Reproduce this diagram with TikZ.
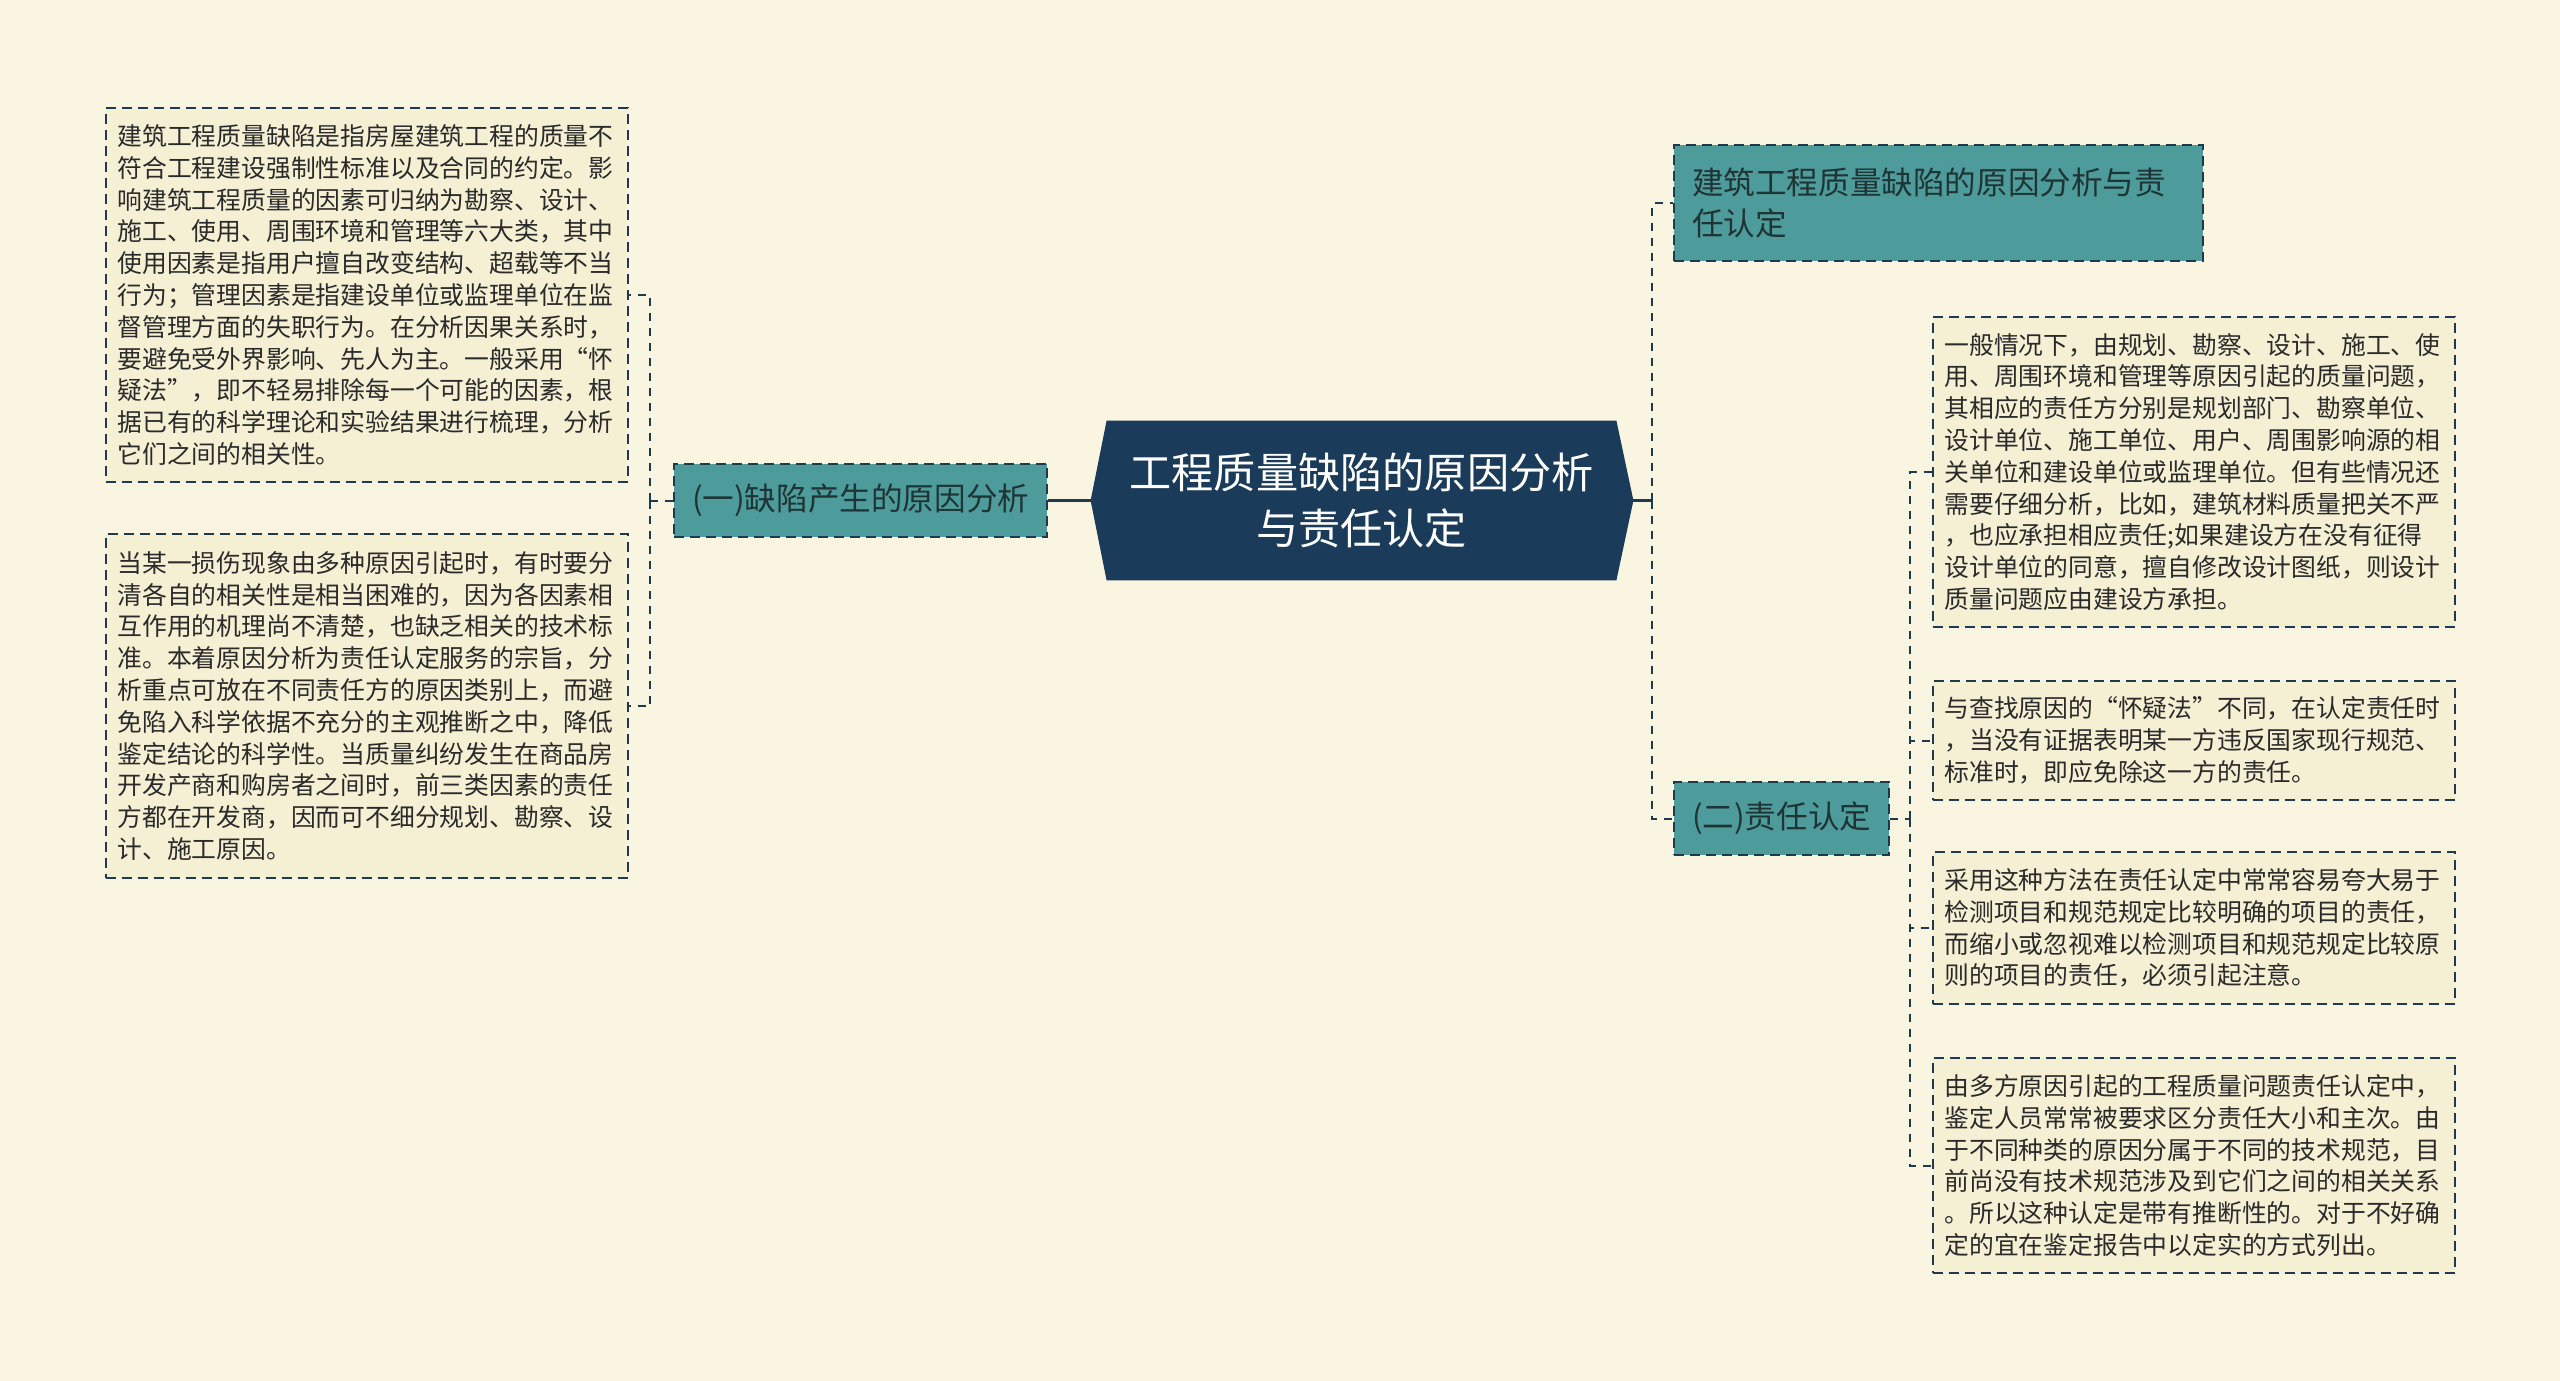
\documentclass[tikz,border=0pt]{standalone}
\usepackage{fontspec}
\usepackage{xcolor}
\usepackage{tikz}
\newfontfamily\cjk{Noto Sans CJK SC}
\definecolor{Fondo}{HTML}{FAF5E1}
\definecolor{Hoja}{HTML}{F5EFD4}
\definecolor{Verde}{HTML}{4E9B9B}
\definecolor{Raiz}{HTML}{1A3C5A}
\definecolor{Borde}{HTML}{1E3A4E}
\definecolor{Texto}{HTML}{2A2A2A}
\definecolor{TextoRama}{HTML}{1F3434}
\pgfdeclarelayer{fondo}
\pgfdeclarelayer{lineas_layer}
\pgfdeclarelayer{forma}
\pgfdeclarelayer{esquema}
\pgfsetlayers{fondo,lineas_layer,forma,esquema,main}
\tikzstyle{none}=[inner sep=0pt]
\tikzstyle{raiz}=[text=white,font=\cjk\fontsize{21.1}{27.8}\selectfont,align=center,minimum width=254.5pt,minimum height=79.5pt,inner sep=0pt]
\tikzstyle{rama}=[draw=Borde,dash pattern=on 5pt off 3pt,line width=1pt,fill=Verde,text=TextoRama,font=\cjk\fontsize{15.8}{20.4}\selectfont,inner xsep=9pt,inner ysep=0pt,anchor=west,align=left]
\tikzstyle{hoja}=[draw=Borde,dash pattern=on 5pt off 3pt,line width=1pt,fill=Hoja,text=Texto,font=\cjk\fontsize{12.4}{15.9}\selectfont,text width=249pt,inner xsep=6pt,inner ysep=6pt,align=left]
\tikzstyle{line}=[draw=Borde,line width=1pt,dash pattern=on 4pt off 3.5pt]
\tikzstyle{tronco}=[draw=Borde,line width=1.5pt]

\begin{document}
\begin{tikzpicture}[x=0.5pt,y=-0.5pt]
		\useasboundingbox (0,0) rectangle (2560,1381);
		\begin{pgfonlayer}{fondo}
			\fill [Fondo] (0,0) rectangle (2560,1381);
		\end{pgfonlayer}
		\begin{pgfonlayer}{esquema}
			\node [style=raiz] (raiz) at (1361.5,500.5) {工程质量缺陷的原因分析\\与责任认定};
			\node [style=rama,minimum width=186pt,minimum height=36.5pt] (causas) at (673,500.5) {(一)缺陷产生的原因分析};
			\node [style=rama,text width=246.5pt,minimum height=58pt] (titulo) at (1673,203) {建筑工程质量缺陷的原因分析与责\\任认定};
			\node [style=rama,minimum width=107pt,minimum height=36.5pt] (responsabilidad) at (1673,818.5) {(二)责任认定};
			\node [style=hoja,minimum height=187pt] (definicion) at (366.5,295) {建筑工程质量缺陷是指房屋建筑工程的质量不\\符合工程建设强制性标准以及合同的约定。影\\响建筑工程质量的因素可归纳为勘察、设计、\\施工、使用、周围环境和管理等六大类，其中\\使用因素是指用户擅自改变结构、超载等不当\\行为；管理因素是指建设单位或监理单位在监\\督管理方面的失职行为。在分析因果关系时，\\要避免受外界影响、先人为主。一般采用“怀\\疑法”，即不轻易排除每一个可能的因素，根\\据已有的科学理论和实验结果进行梳理，分析\\它们之间的相关性。};
			\node [style=hoja,minimum height=172pt] (dificultad) at (366.5,706) {当某一损伤现象由多种原因引起时，有时要分\\清各自的相关性是相当困难的，因为各因素相\\互作用的机理尚不清楚，也缺乏相关的技术标\\准。本着原因分析为责任认定服务的宗旨，分\\析重点可放在不同责任方的原因类别上，而避\\免陷入科学依据不充分的主观推断之中，降低\\鉴定结论的科学性。当质量纠纷发生在商品房\\开发产商和购房者之间时，前三类因素的责任\\方都在开发商，因而可不细分规划、勘察、设\\计、施工原因。};
			\node [style=hoja,minimum height=155pt] (general) at (2193.5,472) {一般情况下，由规划、勘察、设计、施工、使\\用、周围环境和管理等原因引起的质量问题，\\其相应的责任方分别是规划部门、勘察单位、\\设计单位、施工单位、用户、周围影响源的相\\关单位和建设单位或监理单位。但有些情况还\\需要仔细分析，比如，建筑材料质量把关不严\\，也应承担相应责任;如果建设方在没有征得\\设计单位的同意，擅自修改设计图纸，则设计\\质量问题应由建设方承担。};
			\node [style=hoja,minimum height=59.5pt] (exencion) at (2193.5,740.5) {与查找原因的“怀疑法”不同，在认定责任时\\，当没有证据表明某一方违反国家现行规范、\\标准时，即应免除这一方的责任。};
			\node [style=hoja,minimum height=76pt] (metodo) at (2193.5,928) {采用这种方法在责任认定中常常容易夸大易于\\检测项目和规范规定比较明确的项目的责任，\\而缩小或忽视难以检测项目和规范规定比较原\\则的项目的责任，必须引起注意。};
			\node [style=hoja,minimum height=107.5pt] (multiple) at (2193.5,1165.5) {由多方原因引起的工程质量问题责任认定中，\\鉴定人员常常被要求区分责任大小和主次。由\\于不同种类的原因分属于不同的技术规范，目\\前尚没有技术规范涉及到它们之间的相关关系\\。所以这种认定是带有推断性的。对于不好确\\定的宜在鉴定报告中以定实的方式列出。};
			\coordinate (bus_izq) at (650,500.5);
			\coordinate (bus_der) at (1652,500.5);
			\coordinate (bus_resp) at (1910,818.5);
		\end{pgfonlayer}
		\begin{pgfonlayer}{forma}
			\fill [Raiz] (raiz.north west) -- (raiz.north east) -- ([xshift=8.5pt]raiz.east) -- (raiz.south east) -- (raiz.south west) -- ([xshift=-8pt]raiz.west) -- cycle;
		\end{pgfonlayer}
		\begin{pgfonlayer}{lineas_layer}
			\path [style=tronco] (raiz.west) -- (causas.east);
			\path [style=tronco] (raiz.east) -- (bus_der);
			\path [style=line] (bus_der) |- (titulo.west);
			\path [style=line] (bus_der) |- (responsabilidad.west);
			\path [style=line] (causas.west) -- (bus_izq);
			\path [style=line] (bus_izq) |- (definicion.east);
			\path [style=line] (bus_izq) |- (dificultad.east);
			\path [style=line] (responsabilidad.east) -- (bus_resp);
			\path [style=line] (bus_resp) |- (general.west);
			\path [style=line] (bus_resp) |- (exencion.west);
			\path [style=line] (bus_resp) |- (metodo.west);
			\path [style=line] (bus_resp) |- (multiple.west);
		\end{pgfonlayer}
\end{tikzpicture}
\end{document}
